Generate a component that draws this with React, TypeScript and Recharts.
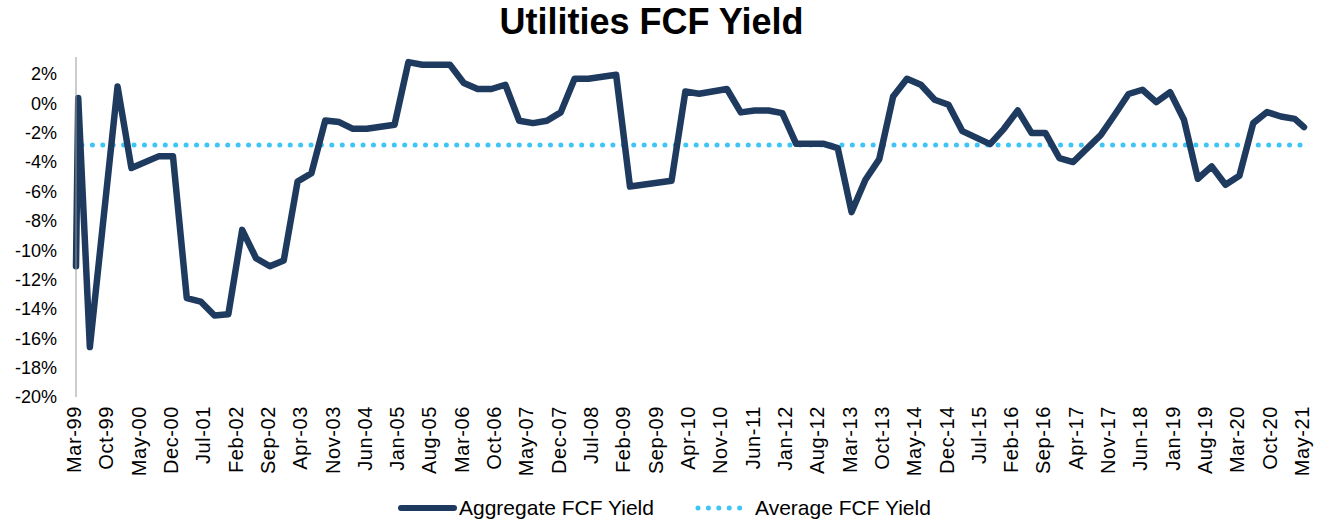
import React from "react"
import { LineChart, Line, XAxis, YAxis, ReferenceLine } from "recharts"

// dates of each reading (first two fall in the same month)
const pointDates = [
  "1999-03-01", "1999-03-16", "1999-06-01", "1999-12-01", "2000-03-01", "2000-09-01", "2000-12-01",
  "2001-03-01", "2001-06-01", "2001-09-01", "2001-12-01", "2002-03-01", "2002-06-01", "2002-09-01",
  "2002-12-01", "2003-03-01", "2003-06-01", "2003-09-01", "2003-12-01", "2004-03-01", "2004-06-01",
  "2004-12-01", "2005-03-01", "2005-06-01", "2005-12-01", "2006-03-01", "2006-06-01", "2006-09-01",
  "2006-12-01", "2007-03-01", "2007-06-01", "2007-09-01", "2007-12-01", "2008-03-01", "2008-06-01",
  "2008-12-01", "2009-03-01", "2009-12-01", "2010-03-01", "2010-06-01", "2010-12-01", "2011-03-01",
  "2011-06-01", "2011-09-01", "2011-12-01", "2012-03-01", "2012-09-01", "2012-12-01", "2013-03-01",
  "2013-06-01", "2013-09-01", "2013-12-01", "2014-03-01", "2014-06-01", "2014-09-01", "2014-12-01",
  "2015-03-01", "2015-09-01", "2015-12-01", "2016-03-01", "2016-06-01", "2016-09-01", "2016-12-01",
  "2017-03-01", "2017-09-01", "2017-12-01", "2018-03-01", "2018-06-01", "2018-09-01", "2018-12-01",
  "2019-03-01", "2019-06-01", "2019-09-01", "2019-12-01", "2020-03-01", "2020-06-01", "2020-09-01",
  "2020-12-01", "2021-03-01", "2021-05-01",
]

// aggregate FCF yield, %
const fcfYield = [
  -11.1, 0.35, -16.6, 1.14, -4.41, -3.6, -3.6,
  -13.27, -13.5, -14.45, -14.36, -8.62, -10.55, -11.1,
  -10.7, -5.33, -4.76, -1.17, -1.28, -1.74, -1.74,
  -1.46, 2.8, 2.62, 2.62, 1.38, 0.97, 0.97,
  1.26, -1.19, -1.35, -1.19, -0.62, 1.67, 1.67,
  1.94, -5.67, -5.28, 0.8, 0.65, 0.97, -0.62,
  -0.49, -0.49, -0.67, -2.76, -2.76, -3.05, -7.41,
  -5.21, -3.8, 0.46, 1.67, 1.26, 0.24, -0.1,
  -1.9, -2.78, -1.74, -0.49, -2.03, -2.03, -3.73,
  -4.0, -2.15, -0.78, 0.63, 0.92, 0.08, 0.76,
  -1.12, -5.14, -4.3, -5.55, -4.94, -1.35, -0.6,
  -0.9, -1.06, -1.62,
]

const AVG_FCF_YIELD = -2.85

const tickLabels = [
  "Mar-99", "Oct-99", "May-00", "Dec-00", "Jul-01", "Feb-02", "Sep-02", "Apr-03", "Nov-03", "Jun-04",
  "Jan-05", "Aug-05", "Mar-06", "Oct-06", "May-07", "Dec-07", "Jul-08", "Feb-09", "Sep-09", "Apr-10",
  "Nov-10", "Jun-11", "Jan-12", "Aug-12", "Mar-13", "Oct-13", "May-14", "Dec-14", "Jul-15", "Feb-16",
  "Sep-16", "Apr-17", "Nov-17", "Jun-18", "Jan-19", "Aug-19", "Mar-20", "Oct-20", "May-21",
]

const yTicks = [-20, -18, -16, -14, -12, -10, -8, -6, -4, -2, 0, 2]

const FONT = '"Liberation Sans", Arial, sans-serif'
const NAVY = "#1f3a5f"
const SKY = "#3ec5f5"
const LAST_MONTH = 266

// months since Mar-99
const monthsFromStart = (d: string) => {
  const [y, m, day] = d.split("-").map(Number)
  return (y - 1999) * 12 + (m - 3) + (day - 1) / 31
}

const data = pointDates.map((d, i) => ({ m: monthsFromStart(d), v: fcfYield[i] }))

const XTick = ({ x, y, payload }: any) => (
  <g transform={`translate(${x - 2},${y + 9})`}>
    <text transform="rotate(-90)" textAnchor="end" dy={7} fontSize={20} letterSpacing={0.6} fill="#000" fontFamily={FONT}>
      {tickLabels[Math.round(payload.value / 7)]}
    </text>
  </g>
)

export default function App() {
  return (
    <div style={{ position: "absolute", left: 0, top: 0, width: 1324, height: 520, background: "#fff", fontFamily: FONT }}>
      <div style={{ position: "absolute", left: 0, top: 0, width: 1303, textAlign: "center", fontSize: 36, fontWeight: "bold", lineHeight: "44px" }}>
        Utilities FCF Yield
      </div>
      <LineChart width={1324} height={520} data={data} margin={{ top: 57, right: 20, bottom: 0, left: 0 }}>
        <XAxis
          type="number"
          dataKey="m"
          domain={[0, LAST_MONTH]}
          ticks={tickLabels.map((_, i) => i * 7)}
          tick={<XTick />}
          axisLine={false}
          tickLine={false}
          tickSize={0}
          tickMargin={0}
          height={123}
          interval={0}
        />
        <YAxis
          domain={[-20, 3.15]}
          ticks={yTicks}
          tickFormatter={(v: number) => `${v}%`}
          tick={{ fill: "#000", fontSize: 18, fontFamily: FONT }}
          axisLine={{ stroke: "#999" }}
          tickLine={false}
          tickSize={0}
          tickMargin={19}
          width={76}
          allowDataOverflow
        />
        <ReferenceLine
          segment={[{ x: 1.3, y: AVG_FCF_YIELD }, { x: LAST_MONTH - 0.6, y: AVG_FCF_YIELD }]}
          stroke={SKY}
          strokeWidth={5}
          strokeDasharray="0.01 10.4"
          strokeLinecap="round"
        />
        <Line
          type="linear"
          dataKey="v"
          stroke={NAVY}
          strokeWidth={6.5}
          strokeLinejoin="round"
          strokeLinecap="round"
          dot={false}
          activeDot={false}
          isAnimationActive={false}
        />
      </LineChart>
      <svg style={{ position: "absolute", left: 396, top: 502 }} width={64} height={12}>
        <line x1={5} y1={6} x2={58} y2={6} stroke={NAVY} strokeWidth={6} strokeLinecap="round" />
      </svg>
      <div style={{ position: "absolute", left: 459, top: 496, fontSize: 21, lineHeight: "24px", color: "#000" }}>
        Aggregate FCF Yield
      </div>
      <svg style={{ position: "absolute", left: 694, top: 502 }} width={60} height={12}>
        <line x1={4} y1={6} x2={56} y2={6} stroke={SKY} strokeWidth={5} strokeDasharray="0.01 10.4" strokeLinecap="round" />
      </svg>
      <div style={{ position: "absolute", left: 755, top: 496, fontSize: 21, lineHeight: "24px", color: "#000" }}>
        Average FCF Yield
      </div>
    </div>
  )
}
